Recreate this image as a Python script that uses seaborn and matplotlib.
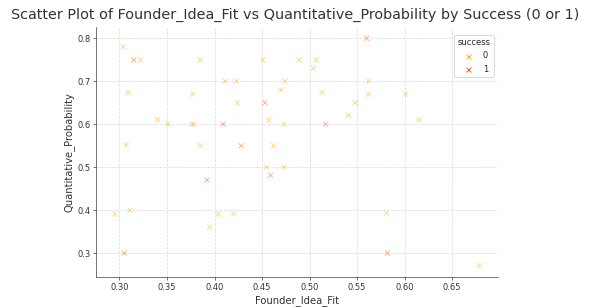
import seaborn as sns
import pandas as pd
import matplotlib.pyplot as plt

# success = 0
fit_0 = [0.304, 0.322, 0.385, 0.309, 0.411, 0.423, 0.424, 0.377, 0.451, 0.457,
         0.470, 0.474, 0.473, 0.340, 0.351, 0.376, 0.378, 0.307, 0.385, 0.462,
         0.489, 0.507, 0.504, 0.562, 0.513, 0.562, 0.601, 0.548, 0.541, 0.615,
         0.295, 0.311, 0.395, 0.404, 0.420, 0.455, 0.473, 0.581, 0.679]
prob_0 = [0.78, 0.75, 0.75, 0.674, 0.70, 0.70, 0.65, 0.67, 0.75, 0.609,
          0.68, 0.70, 0.60, 0.611, 0.60, 0.60, 0.60, 0.552, 0.55, 0.55,
          0.75, 0.75, 0.73, 0.70, 0.674, 0.67, 0.67, 0.65, 0.621, 0.61,
          0.391, 0.40, 0.361, 0.391, 0.391, 0.50, 0.50, 0.393, 0.271]

# success = 1
fit_1 = [0.315, 0.453, 0.409, 0.428, 0.560, 0.517, 0.305, 0.392, 0.459, 0.582]
prob_1 = [0.75, 0.65, 0.60, 0.55, 0.80, 0.60, 0.30, 0.47, 0.481, 0.30]

df = pd.DataFrame({
    "Founder_Idea_Fit": fit_0 + fit_1,
    "Quantitative_Probability": prob_0 + prob_1,
    "success": [0] * len(fit_0) + [1] * len(fit_1),
})

sns.set_style("ticks")
plt.rcParams["font.family"] = ["DejaVu Sans"]

fig = plt.figure(figsize=(592 / 60, 307 / 60), dpi=60)
ax = fig.add_axes([0.163, 0.098, 0.678, 0.814])

sns.scatterplot(data=df, x="Founder_Idea_Fit", y="Quantitative_Probability",
                hue="success", palette="autumn_r", marker="x", alpha=0.5,
                s=36, linewidth=1, ax=ax)

ax.grid(True, linestyle="--", color="#dddddd", linewidth=0.9)
sns.despine(ax=ax)
for sp in ax.spines.values():
    sp.set_color("#333333")
ax.tick_params(colors="#333333", labelsize=10)
ax.set_xticks([0.30, 0.35, 0.40, 0.45, 0.50, 0.55, 0.60, 0.65])
ax.set_xlabel("Founder_Idea_Fit", fontsize=12, color="#333333")
ax.set_ylabel("Quantitative_Probability", fontsize=12, color="#333333")
fig.suptitle("Scatter Plot of Founder_Idea_Fit vs Quantitative_Probability by Success (0 or 1)",
             fontsize=17.2, color="#333333", x=0.498, y=0.975)

leg = ax.legend(title="success", loc="upper right", fontsize=10, title_fontsize=10,
                bbox_to_anchor=(1.0, 0.985))
for h in leg.legend_handles:
    h.set_alpha(1)

fig.savefig("out.png", dpi=60)
